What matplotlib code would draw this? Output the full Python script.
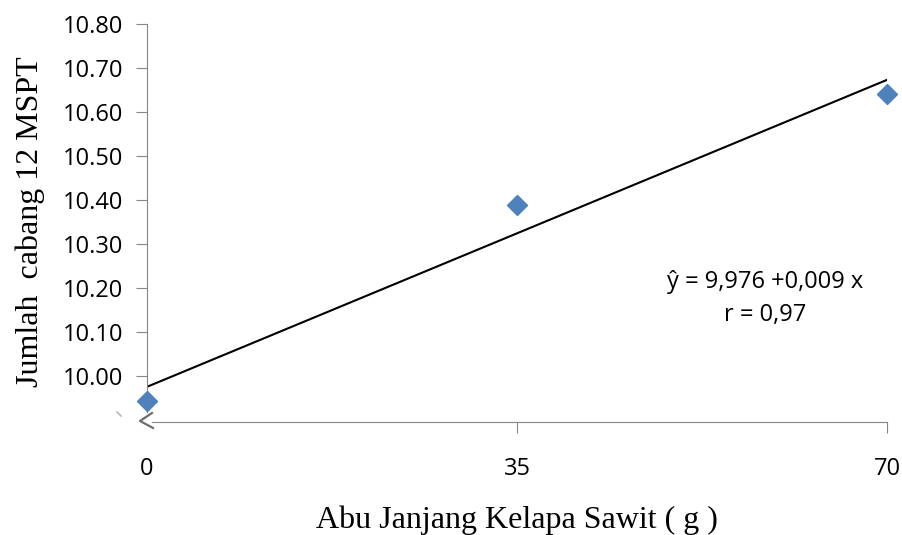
import matplotlib
matplotlib.use("Agg")
import matplotlib.pyplot as plt
from matplotlib.lines import Line2D

x_vals = [0, 35, 70]
y_vals = [9.943, 10.389, 10.641]
line_x = [0, 70]
line_y = [9.975, 10.673]
y_ticks = [10.00, 10.10, 10.20, 10.30, 10.40, 10.50, 10.60, 10.70, 10.80]
x_ticks = [0, 35, 70]
eq_text = "ŷ = 9,976 +0,009 x"
r_text = "r = 0,97"
xlabel = "Abu Janjang Kelapa Sawit ( g )"
ylabel = "Jumlah  cabang 12 MSPT"

fig = plt.figure(figsize=(9.03, 5.35), dpi=100)
ax = fig.add_axes([147/903, 1-422/535, (887-147)/903, (422-24)/535])
ax.set_xlim(0, 70)
ax.set_ylim(9.895, 10.80)

ax.plot(line_x, line_y, color="black", lw=1.5, zorder=2)
ax.plot(x_vals, y_vals, linestyle="none", marker="D", markersize=10,
        color="#4F81BD", markeredgecolor="#4F81BD", zorder=3, clip_on=False)

for s in ["top", "right"]:
    ax.spines[s].set_visible(False)
ax.spines["left"].set_color("#868686")
ax.spines["bottom"].set_color("#868686")
ax.spines["left"].set_bounds(9.918, 10.80)
ax.spines["bottom"].set_bounds(0.5, 70)

ax.set_yticks(y_ticks)
ax.set_yticklabels([f"{v:.2f}" for v in y_ticks])
ax.set_xticks(x_ticks)
ax.set_xticklabels([str(v) for v in x_ticks])
ax.tick_params(axis="y", length=8, color="#868686", labelsize=17, pad=9)
ax.tick_params(axis="x", length=8, color="#868686", labelsize=17, pad=17)
for lab in ax.get_xticklabels() + ax.get_yticklabels():
    lab.set_family("Open Sans")
ax.xaxis.get_major_ticks()[0].tick1line.set_visible(False)

# axis break marks
fig.lines.append(Line2D([152/903, 140/903, 153/903], [1-413/535, 1-421/535, 1-428/535],
                        color="#6e6e6e", lw=1.6, transform=fig.transFigure))
fig.lines.append(Line2D([117/903, 121/903], [1-412/535, 1-416/535],
                        color="#aaaaaa", lw=1.0, transform=fig.transFigure))

ax.text(765/903, 1-282/535, eq_text, transform=fig.transFigure, ha="center", va="center",
        fontsize=17, family="Open Sans")
ax.text(765/903, 1-315/535, r_text, transform=fig.transFigure, ha="center", va="center",
        fontsize=17, family="Open Sans")

fig.text(517/903, 1-520/535, xlabel, ha="center", va="center", fontsize=23,
         family="Liberation Serif")
fig.text(30/903, 1-222/535, ylabel, ha="center", va="center", fontsize=23,
         family="Liberation Serif", rotation=90)

fig.savefig("out.png", dpi=100)
